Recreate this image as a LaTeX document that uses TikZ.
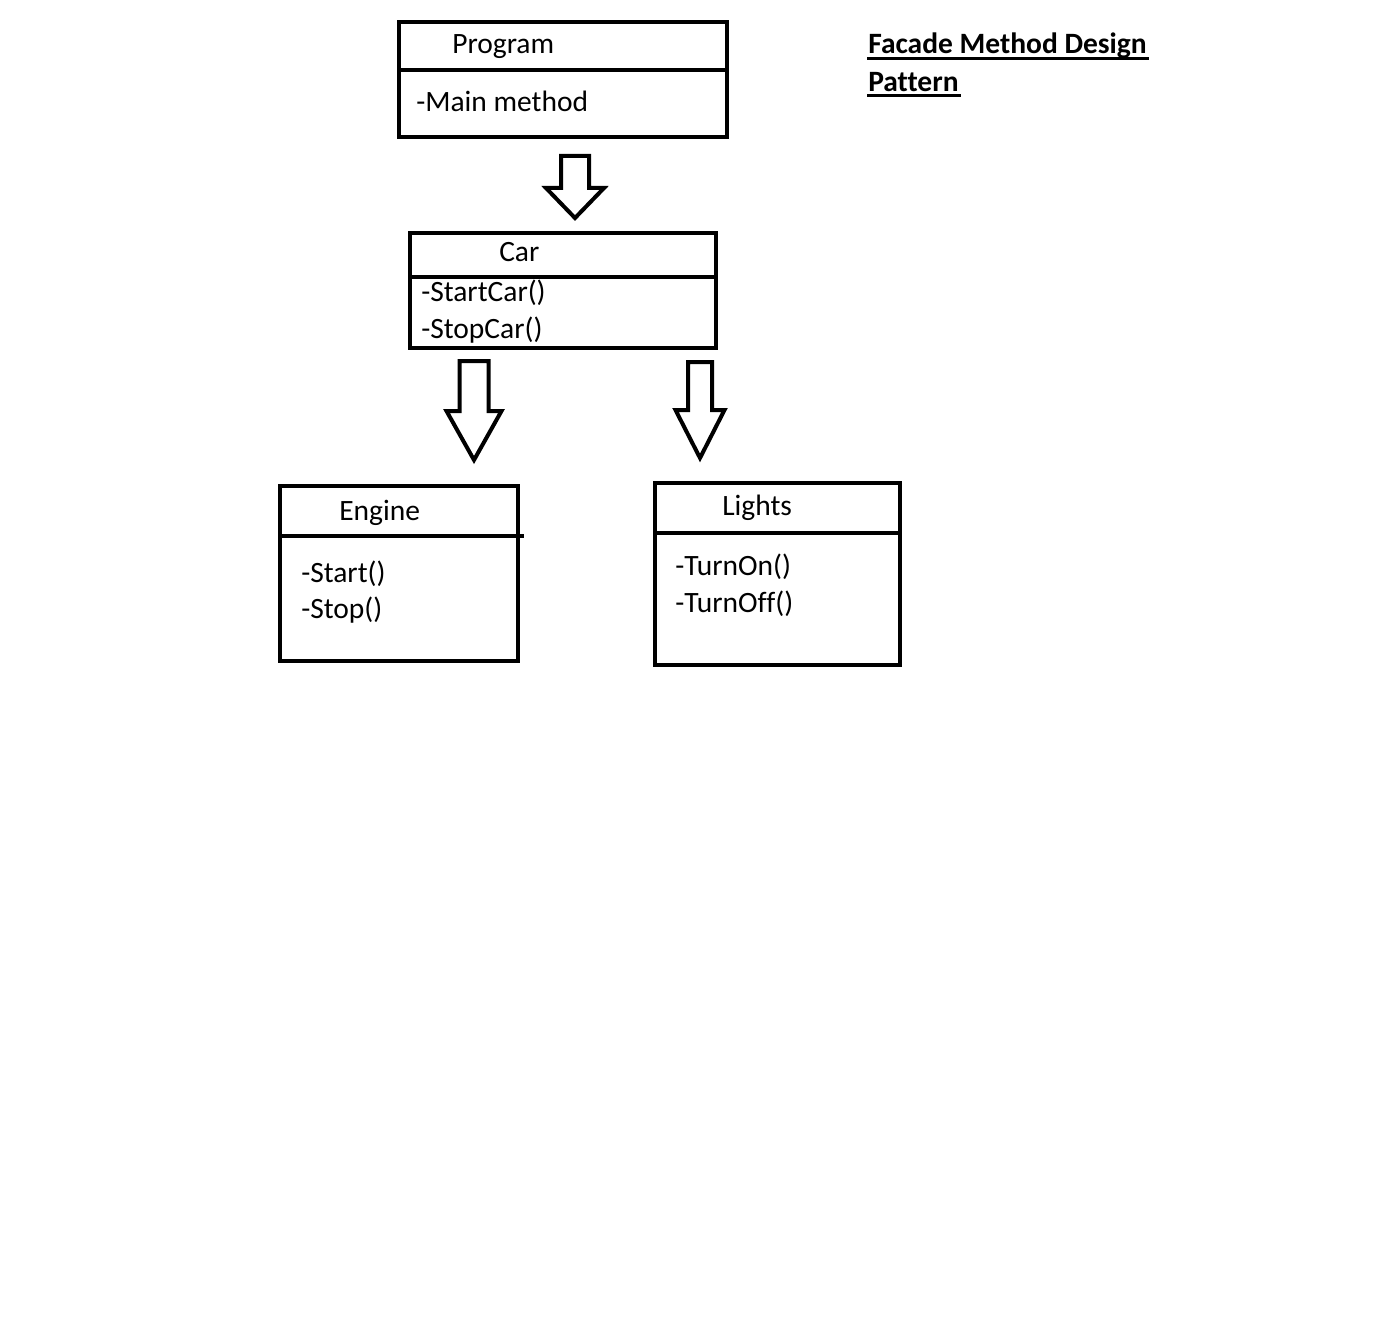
\documentclass[tikz,border=0pt]{standalone}
\usepackage{fontspec}
\setmainfont{Carlito}[Ligatures=NoCommon]
\usepackage{tikz}
\usetikzlibrary{calc}
\def\hollowarrow[#1](#2,#3)(#4:#5:#6:#7){\draw[#1] (#2-#4, #3) -- (#2+#4, #3) -- (#2+#4, #6) -- (#2+#5, #6) -- (#2, #7) -- (#2-#5, #6) -- (#2-#4, #6) -- cycle;}

\begin{document}
\begin{tikzpicture}[x=1pt, y=-1pt, line width=4.5pt,
	every node/.style={inner sep=0pt, anchor=base west, font=\fontsize{29.5}{36}\selectfont}]
			%%%%% START %%%%%
			\useasboundingbox (0, 0) rectangle (1395, 1340);
			
			\draw (399, 22) rectangle (727, 137);
			\draw (399, 70) -- (727, 70);
			\node (program) at (450, 54) {Program};
			\node (mainmethod) at (414, 112) {-Main method};
			
			\hollowarrow[line width=4pt](575, 156)(14:29:188:218)
			
			\draw (410, 233) rectangle (716, 348);
			\draw (410, 277) -- (716, 277);
			\node (car) at (497, 262) {Car};
			\node (startcar) at (419, 302) {-StartCar()};
			\node (stopcar) at (419, 338) {-StopCar()};
			
			\hollowarrow[line width=4pt](474, 361)(14.5:27.5:411:460)
			\hollowarrow[line width=4pt](700, 362)(12:24.5:410:458)
			
			\draw (280, 486) rectangle (518, 661);
			\draw (280, 536) -- (524, 536);
			\node (engine) at (337, 520) {Engine};
			\node (start) at (299, 582) {-Start()};
			\node (stop) at (299, 618) {-Stop()};
			
			\draw (655, 483) rectangle (900, 665);
			\draw (655, 533) -- (900, 533);
			\node (lights) at (720, 515) {Lights};
			\node (turnon) at (673, 575) {-TurnOn()};
			\node (turnoff) at (673, 612) {-TurnOff()};
			
			\node[font=\fontsize{29.5}{36}\selectfont\bfseries] (title) at (866, 54) {Facade Method Design};
			\node[font=\fontsize{29.5}{36}\selectfont\bfseries] (subtitle) at (866, 92) {Pattern};
			\draw[line width=3pt] ($(title.base west)+(1, 5)$) -- ($(title.base east)+(0, 5)$);
			\draw[line width=3pt] ($(subtitle.base west)+(1, 4)$) -- ($(subtitle.base east)+(0, 4)$);
			
			%%%%% END %%%%%
\end{tikzpicture}
\end{document}
